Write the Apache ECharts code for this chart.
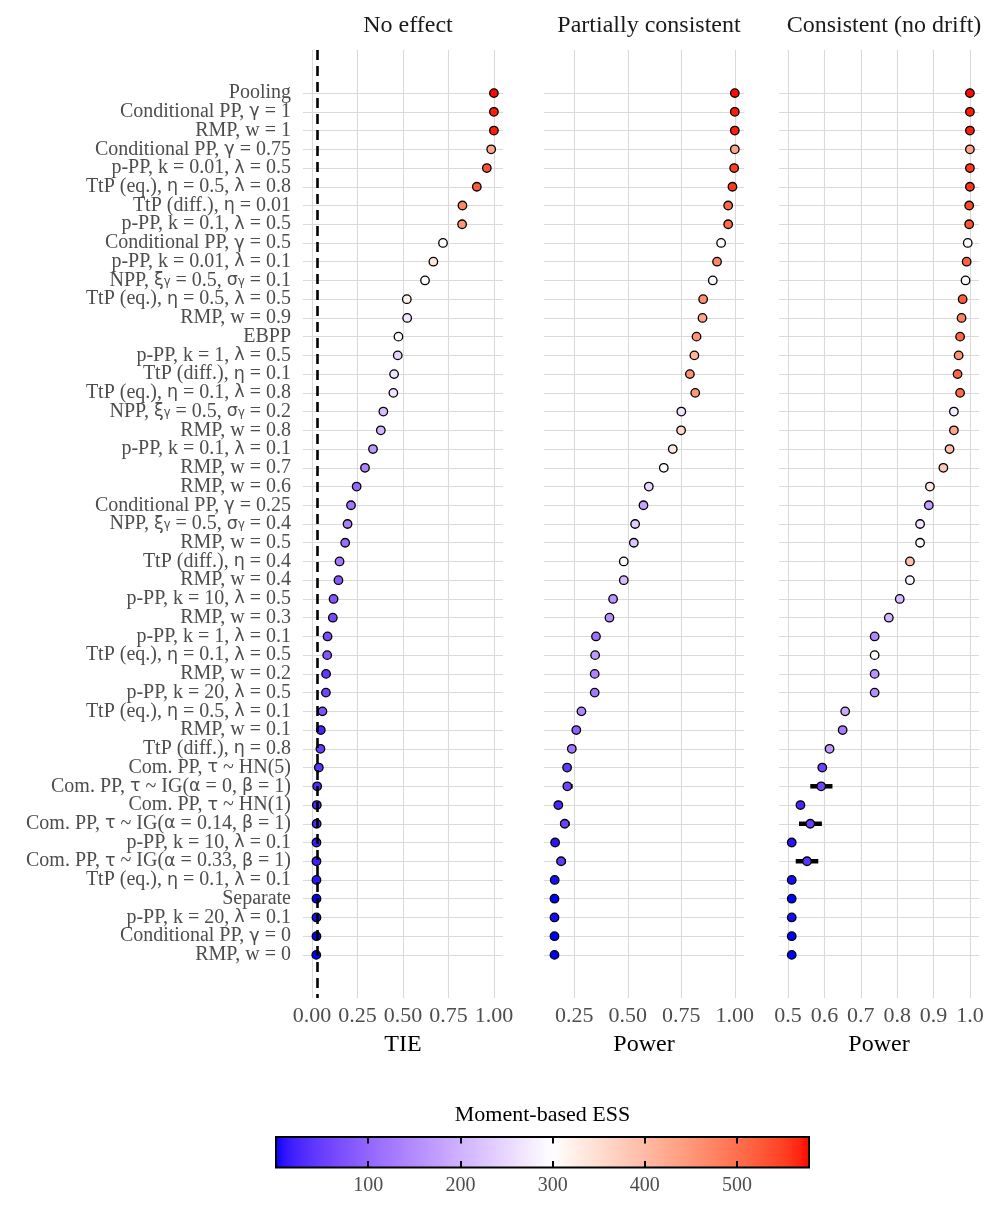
<!DOCTYPE html>
<html><head><meta charset="utf-8">
<script src="https://cdn.jsdelivr.net/npm/echarts@6/dist/echarts.min.js"></script>
<style>html,body{margin:0;padding:0;background:#fff}#c{width:997px;height:1231px}</style>
</head><body><div id="c"></div>
<script>
// ---------------- data ----------------
const methods = [
  'Pooling','Conditional PP, γ = 1','RMP, w = 1','Conditional PP, γ = 0.75',
  'p-PP, k = 0.01, λ = 0.5','TtP (eq.), η = 0.5, λ = 0.8','TtP (diff.), η = 0.01',
  'p-PP, k = 0.1, λ = 0.5','Conditional PP, γ = 0.5','p-PP, k = 0.01, λ = 0.1',
  'NPP, ξ_γ = 0.5, σ_γ = 0.1','TtP (eq.), η = 0.5, λ = 0.5','RMP, w = 0.9','EBPP',
  'p-PP, k = 1, λ = 0.5','TtP (diff.), η = 0.1','TtP (eq.), η = 0.1, λ = 0.8',
  'NPP, ξ_γ = 0.5, σ_γ = 0.2','RMP, w = 0.8','p-PP, k = 0.1, λ = 0.1','RMP, w = 0.7',
  'RMP, w = 0.6','Conditional PP, γ = 0.25','NPP, ξ_γ = 0.5, σ_γ = 0.4','RMP, w = 0.5',
  'TtP (diff.), η = 0.4','RMP, w = 0.4','p-PP, k = 10, λ = 0.5','RMP, w = 0.3',
  'p-PP, k = 1, λ = 0.1','TtP (eq.), η = 0.1, λ = 0.5','RMP, w = 0.2','p-PP, k = 20, λ = 0.5',
  'TtP (eq.), η = 0.5, λ = 0.1','RMP, w = 0.1','TtP (diff.), η = 0.8','Com. PP, τ ~ HN(5)',
  'Com. PP, τ ~ IG(α = 0, β = 1)','Com. PP, τ ~ HN(1)','Com. PP, τ ~ IG(α = 0.14, β = 1)',
  'p-PP, k = 10, λ = 0.1','Com. PP, τ ~ IG(α = 0.33, β = 1)','TtP (eq.), η = 0.1, λ = 0.1',
  'Separate','p-PP, k = 20, λ = 0.1','Conditional PP, γ = 0','RMP, w = 0'
];
const panelTitles = ['No effect', 'Partially consistent', 'Consistent (no drift)'];
const axisTitles = ['TIE', 'Power', 'Power'];

const tieNoEffect = [1.0,1.0,1.0,0.985,0.961,0.906,0.827,0.825,0.72,0.667,0.621,0.521,0.523,0.475,0.471,0.451,0.447,0.392,0.378,0.335,0.291,0.245,0.214,0.195,0.182,0.151,0.145,0.118,0.114,0.085,0.083,0.077,0.076,0.057,0.048,0.046,0.037,0.028,0.026,0.025,0.024,0.024,0.024,0.024,0.024,0.024,0.023];
const essNoEffect = [575,570,570,430,530,520,470,450,300,340,305,320,270,290,245,265,265,215,205,165,140,105,120,135,110,125,85,80,65,70,80,45,60,75,25,50,40,30,25,25,15,20,10,0,5,0,0];

const powPartial = [1.0,1.0,1.0,1.0,0.997,0.989,0.969,0.969,0.936,0.917,0.897,0.852,0.849,0.821,0.811,0.790,0.815,0.750,0.749,0.710,0.668,0.598,0.573,0.534,0.528,0.481,0.481,0.431,0.414,0.351,0.347,0.345,0.345,0.283,0.259,0.238,0.216,0.217,0.175,0.205,0.160,0.188,0.158,0.157,0.157,0.157,0.157];
const essPartial = [575,570,570,430,550,555,510,505,300,470,290,460,430,455,410,455,450,265,360,330,300,250,180,235,225,295,215,160,155,115,170,140,125,145,95,125,45,60,25,55,10,45,5,0,5,0,0];

const powConsistent = [1.0,1.0,1.0,1.0,1.0,1.0,0.998,0.998,0.994,0.991,0.988,0.980,0.977,0.973,0.969,0.966,0.973,0.956,0.956,0.944,0.927,0.890,0.887,0.863,0.863,0.835,0.835,0.807,0.777,0.738,0.738,0.738,0.738,0.657,0.650,0.614,0.594,0.591,0.534,0.561,0.510,0.552,0.510,0.510,0.510,0.510,0.510];
const essConsistent = [575,570,570,430,555,555,540,530,300,515,295,520,475,510,455,510,505,275,430,390,380,330,175,265,295,390,285,215,205,145,295,160,155,190,130,170,55,60,25,50,10,40,5,0,5,0,0];

const ciMethods = ['Com. PP, τ ~ IG(α = 0, β = 1)','Com. PP, τ ~ IG(α = 0.14, β = 1)','Com. PP, τ ~ IG(α = 0.33, β = 1)'];
const ciLoPartial = [0.197,0.183,0.167];
const ciHiPartial = [0.242,0.228,0.211];
const ciLoConsistent = [0.561,0.530,0.521];
const ciHiConsistent = [0.622,0.593,0.583];

const xTicksNoEffect = [0, 0.25, 0.5, 0.75, 1.0];
const xTicksPartial = [0.25, 0.5, 0.75, 1.0];
const xTicksConsistent = [0.5, 0.6, 0.7, 0.8, 0.9, 1.0];
const essTicks = [100, 200, 300, 400, 500];
const essMin = 0, essMax = 578, essMid = 300;
const nominalAlpha = 0.025;

// ---------------- colour scale (Lab diverging: blue - white - red) ----------------
function s2l(c){c/=255;return c<=0.04045?c/12.92:Math.pow((c+0.055)/1.055,2.4);}
function l2s(c){const v=c<=0.0031308?12.92*c:1.055*Math.pow(c,1/2.4)-0.055;return Math.round(Math.max(0,Math.min(1,v))*255);}
function toLab(rgb){
  const R=s2l(rgb[0]),G=s2l(rgb[1]),B=s2l(rgb[2]);
  const X=(0.4124*R+0.3576*G+0.1805*B)/0.95047,Y=0.2126*R+0.7152*G+0.0722*B,Z=(0.0193*R+0.1192*G+0.9505*B)/1.08883;
  const f=t=>t>0.008856?Math.cbrt(t):7.787*t+16/116;
  return [116*f(Y)-16,500*(f(X)-f(Y)),200*(f(Y)-f(Z))];
}
function fromLab(lab){
  const fy=(lab[0]+16)/116,fx=fy+lab[1]/500,fz=fy-lab[2]/200;
  const fi=t=>t*t*t>0.008856?t*t*t:(t-16/116)/7.787;
  const X=fi(fx)*0.95047,Y=fi(fy),Z=fi(fz)*1.08883;
  const R=3.2406*X-1.5372*Y-0.4986*Z,G=-0.9689*X+1.8758*Y+0.0415*Z,B=0.0557*X-0.2040*Y+1.0570*Z;
  return 'rgb('+l2s(R)+','+l2s(G)+','+l2s(B)+')';
}
const labLow=toLab([0,0,255]),labMid=toLab([255,255,255]),labHigh=toLab([255,0,0]);
function essColor(v){
  let a,b,f;
  if(v<essMid){a=labLow;b=labMid;f=(v-essMin)/(essMid-essMin);}
  else{a=labMid;b=labHigh;f=(v-essMid)/(essMax-essMid);}
  return fromLab([0,1,2].map(k=>a[k]+(b[k]-a[k])*f));
}
const nStops=60;
const stopColors=[];
for(let i=0;i<nStops;i++){stopColors.push(essColor(essMin+(essMax-essMin)*i/(nStops-1)));}

// ---------------- labels ----------------
function richLabel(s){
  let out='',buf='';
  const flush=()=>{if(buf){out+='{t|'+buf+'}';buf='';}};
  for(let i=0;i<s.length;i++){
    const ch=s[i];
    if(ch==='_'){flush();out+='{s|'+s[i+1]+'}';i++;continue;}
    if(/[\u0370-\u03ff]/.test(ch)){flush();out+='{g|'+ch+'}';continue;}
    buf+=ch;
  }
  flush();return out;
}
const SERIF="'Liberation Serif','DejaVu Serif',serif";
const SANS="'DejaVu Sans','Noto Sans',sans-serif";
const labelGrey='#4D4D4D';
const gridGrey='#DADADA';
const rows=methods.map((m,i)=>i);
// padding label positions outside the rows keep the first/last real labels from min/max auto-hiding
const labelPositions=[-2].concat(rows,[methods.length+1]);

const panels=[
  {x:tieNoEffect,ess:essNoEffect,min:-0.05,max:1.05,ticks:xTicksNoEffect,dec:2,left:303},
  {x:powPartial,ess:essPartial,min:0.108,max:1.043,ticks:xTicksPartial,dec:2,left:544,ciLo:ciLoPartial,ciHi:ciHiPartial},
  {x:powConsistent,ess:essConsistent,min:0.475,max:1.025,ticks:xTicksConsistent,dec:1,left:779,ciLo:ciLoConsistent,ciHi:ciHiConsistent}
];

const grid=[],xAxis=[],yAxis=[],series=[],title=[];
panels.forEach((p,k)=>{
  grid.push({left:p.left,top:50,width:200,height:948,containLabel:false,outerBoundsMode:'none'});
  xAxis.push({type:'value',gridIndex:k,min:p.min,max:p.max,position:'bottom',
    axisLine:{show:false},
    axisTick:{show:false,customValues:p.ticks},
    axisLabel:{customValues:p.ticks,formatter:v=>v.toFixed(p.dec),fontFamily:SERIF,fontSize:22,color:labelGrey,margin:7,
      showMinLabel:true,showMaxLabel:true,hideOverlap:false},
    splitLine:{show:true,lineStyle:{color:gridGrey,width:1.1}},
    name:axisTitles[k],nameLocation:'middle',nameGap:35,
    nameTextStyle:{fontFamily:SERIF,fontSize:24,color:'#000'}
  });
  yAxis.push({type:'value',gridIndex:k,inverse:true,min:-2.3,max:48.3,
    axisLine:{show:false},
    axisTick:{show:false,customValues:rows},
    axisLabel:{show:k===0,customValues:labelPositions,margin:12,hideOverlap:false,
      formatter:v=>{const i=Math.round(v);return (i>=0&&i<methods.length)?richLabel(methods[i]):'';},
      rich:{
        t:{fontFamily:SERIF,fontSize:20,color:labelGrey,lineHeight:15},
        g:{fontFamily:SANS,fontSize:17.5,color:labelGrey,lineHeight:15},
        s:{fontFamily:SANS,fontSize:11.5,color:labelGrey,verticalAlign:'bottom',lineHeight:8}
      }},
    splitLine:{show:true,lineStyle:{color:gridGrey,width:1.1}}
  });
  title.push({text:panelTitles[k],left:p.left+100,top:21,textAlign:'center',textVerticalAlign:'middle',
    textStyle:{fontFamily:SERIF,fontSize:24,fontWeight:'normal',color:'#1A1A1A'}});
  if(p.ciLo){
    series.push({type:'custom',xAxisIndex:k,yAxisIndex:k,z:2,silent:true,
      data:ciMethods.map((m,i)=>[p.ciLo[i],p.ciHi[i],methods.indexOf(m)]),
      encode:{x:[0,1],y:2},
      renderItem:(params,api)=>{
        const a=api.coord([api.value(0),api.value(2)]);
        const b=api.coord([api.value(1),api.value(2)]);
        return {type:'line',shape:{x1:a[0],y1:a[1],x2:b[0],y2:b[1]},style:{stroke:'#000',lineWidth:4.5}};
      }});
  }
});
const scatterIdx=[];
panels.forEach((p,k)=>{
  scatterIdx.push(series.length);
  const s={type:'scatter',xAxisIndex:k,yAxisIndex:k,z:3,silent:true,symbol:'circle',symbolSize:8.5,
    data:methods.map((m,i)=>[p.x[i],i,p.ess[i]]),
    itemStyle:{borderColor:'#000',borderWidth:1.3,opacity:1}};
  if(k===0){
    s.markLine={silent:true,symbol:['none','none'],label:{show:false},
      lineStyle:{type:[10,6],color:'#000',width:2.6},
      data:[{xAxis:nominalAlpha}]};
  }
  series.push(s);
});

// colour bar
const cbLeft=276,cbWidth=533;
grid.push({left:cbLeft,top:1137,width:cbWidth,height:30.5,containLabel:false,outerBoundsMode:'none',show:true,
  backgroundColor:new echarts.graphic.LinearGradient(0,0,1,0,stopColors.map((c,i)=>({offset:i/(nStops-1),color:c}))),
  borderColor:'#000',borderWidth:2});
xAxis.push({type:'value',gridIndex:3,min:essMin,max:essMax,position:'bottom',z:5,
  axisLine:{show:false},
  axisTick:{show:true,inside:true,length:6.5,customValues:essTicks,lineStyle:{color:'#000',width:2}},
  axisLabel:{customValues:essTicks,fontFamily:SERIF,fontSize:20,color:labelGrey,margin:8},
  splitLine:{show:false}});
xAxis.push({type:'value',gridIndex:3,min:essMin,max:essMax,position:'top',z:5,
  axisLine:{show:false},
  axisTick:{show:true,inside:true,length:6.5,customValues:essTicks,lineStyle:{color:'#000',width:2}},
  axisLabel:{show:false},
  splitLine:{show:false},
  name:'Moment-based ESS',nameLocation:'middle',nameGap:11,
  nameTextStyle:{fontFamily:SERIF,fontSize:22,color:'#000',verticalAlign:'bottom'}});
yAxis.push({type:'value',gridIndex:3,show:false,min:0,max:1});

const option={
  animation:false,backgroundColor:'#fff',
  title,grid,xAxis,yAxis,series,
  visualMap:{type:'continuous',show:false,min:essMin,max:essMax,dimension:2,seriesIndex:scatterIdx,
    inRange:{color:stopColors}}
};
const chart=echarts.init(document.getElementById('c'),null,{renderer:'canvas'});
chart.setOption(option);
</script></body></html>
